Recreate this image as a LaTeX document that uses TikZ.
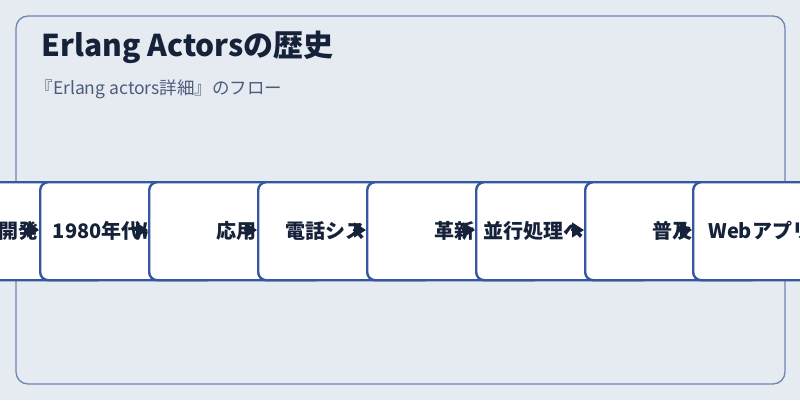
\documentclass[tikz,border=0pt]{standalone}
\usepackage{fontspec}
\setmainfont{Noto Sans CJK JP}
\usetikzlibrary{positioning,arrows.meta}
\definecolor{bgc}{HTML}{E6EBF1}
\definecolor{panelc}{HTML}{6F86B2}
\definecolor{boxc}{HTML}{3457A0}
\definecolor{inkc}{HTML}{16213A}
\definecolor{subc}{HTML}{4C5D7C}
\begin{document}
\begin{tikzpicture}[x=1pt,y=-1pt,
		stage/.style={shape=rectangle, draw=boxc, line width=2.4pt, fill=white, rounded corners=8pt,
			minimum width=174pt, minimum height=98pt, anchor=north west, inner sep=0pt},
		lbl/.style={text=inkc, font=\bfseries\fontsize{20}{20}\selectfont},
		flow/.style={draw=inkc, line width=1.5pt, -{Triangle[length=12pt,width=15pt]}},
]

\fill[bgc] (0,0) rectangle (800,400);
\useasboundingbox (0,0) rectangle (800,400);
\draw[panelc, line width=1.3pt, rounded corners=12pt] (16,16) rectangle (785,384);

\node[anchor=west, text=inkc, font=\bfseries\fontsize{30}{30}\selectfont] (title) at (38,47) {Erlang Actorsの歴史};
\node[anchor=west, text=subc, font=\fontsize{17.5}{17.5}\selectfont] (sub) at (32,89) {『Erlang actors詳細』のフロー};

% left edges of the stages
\foreach \i/\x in {2/39,3/148,4/257,5/366,6/475,7/584,8/692}
  \coordinate (w\i) at (\x,230);

\node[stage] (s1) at (-70,181) {};
\node[lbl] at (s1.center) {開発};
\draw[flow] ([xshift=-13pt]w2) -- (w2);

\node[stage] (s2) at (39,181) {};
\node[lbl] at (s2.center) {1980年代に開発};
\draw[flow] ([xshift=-13pt]w3) -- (w3);

\node[stage] (s3) at (148,181) {};
\node[lbl] at (s3.center) {応用};
\draw[flow] ([xshift=-13pt]w4) -- (w4);

\node[stage] (s4) at (257,181) {};
\node[lbl] at (s4.center) {電話システム};
\draw[flow] ([xshift=-13pt]w5) -- (w5);

\node[stage] (s5) at (366,181) {};
\node[lbl] at (s5.center) {革新};
\draw[flow] ([xshift=-13pt]w6) -- (w6);

\node[stage] (s6) at (475,181) {};
\node[lbl] at (s6.center) {並行処理への応用};
\draw[flow] ([xshift=-13pt]w7) -- (w7);

\node[stage] (s7) at (584,181) {};
\node[lbl] at (s7.center) {普及};
\draw[flow] ([xshift=-13pt]w8) -- (w8);

\node[stage] (s8) at (692,181) {};
\node[lbl] at (s8.center) {Webアプリ開発};

\end{tikzpicture}
\end{document}
